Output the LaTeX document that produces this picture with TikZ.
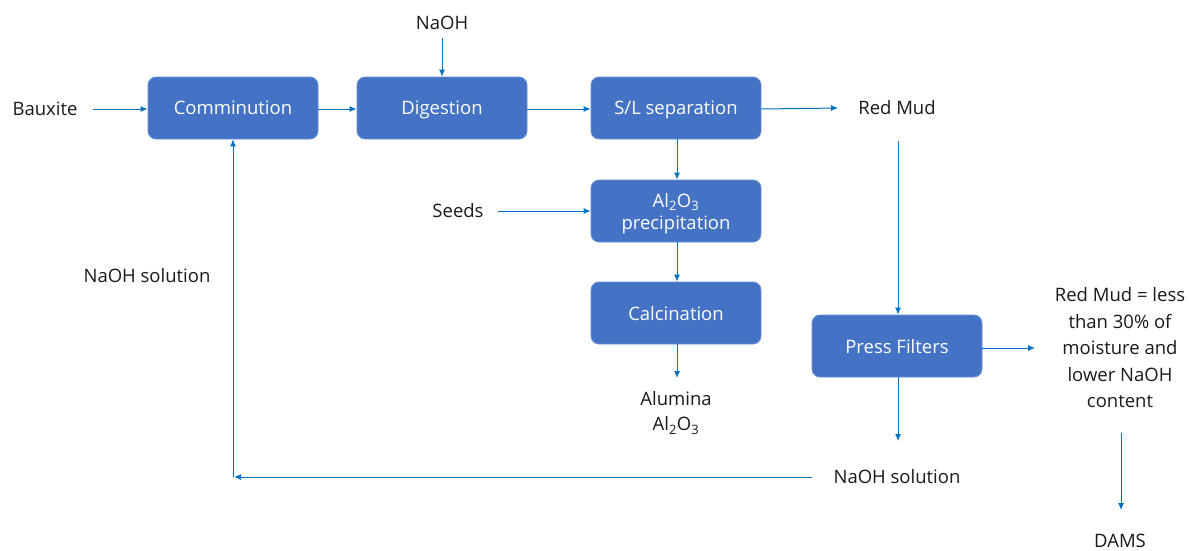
\documentclass[tikz,border=0pt]{standalone}
\usepackage{fontspec}
\setmainfont{Open Sans}
\usetikzlibrary{arrows.meta}
\definecolor{boxfill}{HTML}{4472C4}
\definecolor{boxedge}{HTML}{6A8FD3}
\definecolor{arr}{HTML}{0070C0}
\definecolor{txt}{HTML}{1A1A1A}
\tikzset{
  proc/.style={draw=boxedge, line width=0.8pt, fill=boxfill, rounded corners=8pt,
    minimum width=170pt, minimum height=62pt, text=white, align=center,
    font=\fontsize{18.5}{24}\selectfont, inner sep=0pt, text depth=0pt},
  lbl/.style={text=txt, align=center, font=\fontsize{18.5}{26.5}\selectfont, inner sep=0pt},
  flow/.style={draw=arr, line width=1pt, -{Latex[length=7pt,width=6pt]}},
  wire/.style={draw=arr, line width=1pt}
}
\begin{document}
\begin{tikzpicture}[x=1pt,y=-1pt]
\useasboundingbox (0,0) rectangle (1190,550);
% boxes
\node[proc] (com) at (233,108) {Comminution};
\node[proc] (dig) at (442,108) {Digestion};
\node[proc] (sl) at (676,108) {S/L separation};
\node[proc, font=\fontsize{18.5}{22}\selectfont] (pre) at (676,211) {Al\textsubscript{2}O\textsubscript{3}\\precipitation};
\node[proc] (cal) at (676,313) {Calcination};
\node[proc] (pf) at (897,346) {Press Filters};
% labels
\node[lbl] (bau) at (45,109) {Bauxite};
\node[lbl] (naoh) at (442,23) {NaOH};
\node[lbl] (rm) at (897,108) {Red Mud};
\node[lbl] (seeds) at (458,211) {Seeds};
\node[lbl] (sol1) at (147,276) {NaOH solution};
\node[lbl, font=\fontsize{18.5}{25}\selectfont] (alu) at (676,413) {Alumina\\Al\textsubscript{2}O\textsubscript{3}};
\node[lbl] (rm2) at (1120,348) {Red Mud = less\\than 30\% of\\moisture and\\lower NaOH\\content};
\node[lbl] (sol2) at (897,477) {NaOH solution};
\node[lbl] (dams) at (1120,541) {DAMS};
% coordinates for free ends
\coordinate (bauE) at (93,109);
\coordinate (naohS) at (442,38);
\coordinate (rmW) at (838,108);
\coordinate (rmS) at (898,141);
\coordinate (seedsE) at (498,211);
\coordinate (aluN) at (677,378);
\coordinate (rm2W) at (1035,348);
\coordinate (sol2N) at (898,441);
\coordinate (sol2W) at (812,477);
\coordinate (corner) at (233,477);
\coordinate (rm2S) at (1121,433);
\coordinate (damsN) at (1121,510);
% connectors
\draw[flow] (bauE) -- (com.west |- bauE);
\draw[flow] (com.east |- 0,109) -- (dig.west |- 0,109);
\draw[flow] (naohS) -- (dig.north);
\draw[flow] (dig.east |- 0,109) -- (sl.west |- 0,109);
\draw[flow] (sl.east |- 0,109) -- (rmW);
\draw[flow] (sl.south -| 677,0) -- (pre.north -| 677,0);
\draw[flow] (seedsE) -- (pre.west |- seedsE);
\draw[flow] (pre.south -| 677,0) -- (cal.north -| 677,0);
\draw[flow] (cal.south -| 677,0) -- (aluN);
\draw[flow] (rmS) -- (pf.north -| rmS);
\draw[flow] (pf.east |- rm2W) -- (rm2W);
\draw[flow] (pf.south -| sol2N) -- (sol2N);
\draw[flow] (sol2W) -- ([xshift=1pt]corner);
\draw[flow] (corner) -- (com.south);
\draw[flow] (rm2S) -- (damsN);
\end{tikzpicture}
\end{document}
